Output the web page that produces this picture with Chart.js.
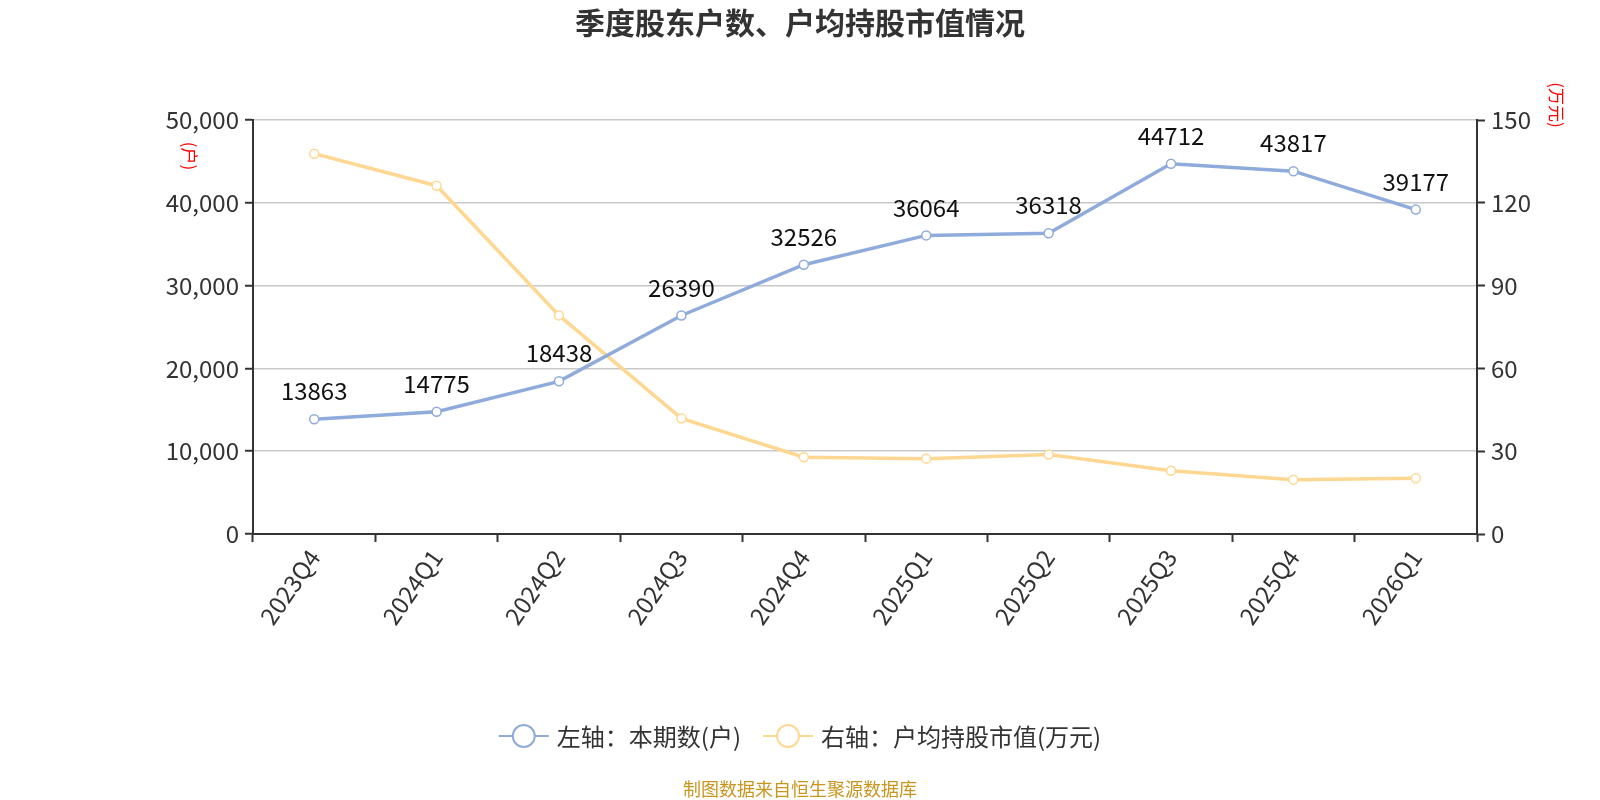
<!DOCTYPE html>
<html>
<head>
<meta charset="utf-8">
<script src="https://cdn.jsdelivr.net/npm/chart.js@4"></script>
<style>
html,body{margin:0;padding:0;background:#fff;}
#wrap{width:1600px;height:800px;position:relative;}
</style>
</head>
<body>
<div id="wrap"><canvas id="c" width="1600" height="800"></canvas></div>
<script>
const categories = ['2023Q4','2024Q1','2024Q2','2024Q3','2024Q4','2025Q1','2025Q2','2025Q3','2025Q4','2026Q1'];
const holders = [13863,14775,18438,26390,32526,36064,36318,44712,43817,39177];
const avgValue = [137.8,126.2,79.2,41.9,27.8,27.3,28.8,22.9,19.7,20.2];
const leftTicks = [0,10000,20000,30000,40000,50000];
const rightTicks = [0,30,60,90,120,150];
const seriesNames = ['左轴：本期数(户)','右轴：户均持股市值(万元)'];
const titleText = '季度股东户数、户均持股市值情况';
const footerText = '制图数据来自恒生聚源数据库';

const FONT = '"Noto Sans CJK SC","Noto Sans",sans-serif';
const BLUE = 'rgb(143,171,219)';
const YELLOW = 'rgb(254,216,146)';
const AX = '#333333';

const extras = {
  id: 'extras',
  afterDatasetsDraw(chart) {
    const ctx = chart.ctx;
    const meta = chart.getDatasetMeta(0);
    ctx.save();
    ctx.font = '24px ' + FONT;
    ctx.fillStyle = '#111';
    ctx.textAlign = 'center';
    ctx.textBaseline = 'middle';
    meta.data.forEach((pt, i) => {
      ctx.fillText(String(holders[i]), pt.x, pt.y - 28);
    });
    ctx.restore();
  },
  afterDraw(chart) {
    const ctx = chart.ctx;
    const W = chart.width;
    ctx.save();
    // title
    ctx.font = 'bold 30px ' + FONT;
    ctx.fillStyle = '#333';
    ctx.textAlign = 'center';
    ctx.textBaseline = 'middle';
    ctx.fillText(titleText, W / 2, 23);
    // axis unit titles
    ctx.font = '17px ' + FONT;
    ctx.fillStyle = '#ff0000';
    ctx.save();
    ctx.translate(189, 156);
    ctx.rotate(Math.PI / 2);
    ctx.fillText('(户)', 0, 0);
    ctx.restore();
    ctx.save();
    ctx.translate(1556, 105);
    ctx.rotate(Math.PI / 2);
    ctx.fillText('(万元)', 0, 0);
    ctx.restore();
    // legend
    const colors = [BLUE, YELLOW];
    ctx.font = '24px ' + FONT;
    const ly = 736;
    const w0 = ctx.measureText(seriesNames[0]).width;
    const w1 = ctx.measureText(seriesNames[1]).width;
    const sym = 50, gap = 8, between = 22;
    const total = sym + gap + w0 + between + sym + gap + w1;
    let x = W / 2 - total / 2;
    [w0, w1].forEach((w, i) => {
      ctx.strokeStyle = colors[i];
      ctx.lineWidth = 2;
      ctx.beginPath();
      ctx.moveTo(x, ly);
      ctx.lineTo(x + sym, ly);
      ctx.stroke();
      ctx.beginPath();
      ctx.arc(x + sym / 2, ly, 11, 0, Math.PI * 2);
      ctx.fillStyle = '#fff';
      ctx.fill();
      ctx.stroke();
      ctx.fillStyle = '#333';
      ctx.textAlign = 'left';
      ctx.fillText(seriesNames[i], x + sym + gap, ly + 1);
      x += sym + gap + w + between;
    });
    // footer
    ctx.font = '18px ' + FONT;
    ctx.fillStyle = '#c8951e';
    ctx.textAlign = 'center';
    ctx.fillText(footerText, W / 2, 789);
    ctx.restore();
  }
};

new Chart(document.getElementById('c'), {
  type: 'line',
  data: {
    labels: categories,
    datasets: [
      {
        label: seriesNames[0],
        data: holders,
        yAxisID: 'y',
        borderColor: BLUE,
        backgroundColor: '#fff',
        borderWidth: 3.5,
        pointRadius: 4.5,
        pointBorderWidth: 1.5,
        pointBackgroundColor: '#fff',
        pointBorderColor: BLUE,
        tension: 0
      },
      {
        label: seriesNames[1],
        data: avgValue,
        yAxisID: 'y1',
        borderColor: YELLOW,
        backgroundColor: '#fff',
        borderWidth: 3.5,
        pointRadius: 4.5,
        pointBorderWidth: 1.5,
        pointBackgroundColor: '#fff',
        pointBorderColor: YELLOW,
        tension: 0
      }
    ]
  },
  options: {
    responsive: false,
    animation: false,
    layout: { padding: { top: 120, left: 0, right: 0, bottom: 0 } },
    plugins: {
      legend: { display: false },
      title: { display: false },
      tooltip: { enabled: false }
    },
    scales: {
      x: {
        offset: true,
        grid: { display: true, drawOnChartArea: false, offset: true, tickLength: 8, tickColor: AX, tickWidth: 2 },
        border: { display: true, color: AX, width: 2 },
        ticks: { color: AX, font: { size: 24, family: FONT }, minRotation: 55, maxRotation: 55, padding: 2 },
        afterFit(s) { s.height = 266; }
      },
      y: {
        position: 'left',
        min: 0, max: 50000,
        afterBuildTicks(s) { s.ticks = leftTicks.map(v => ({ value: v })); },
        grid: { color: '#c8c8c8', lineWidth: 1.5, tickColor: AX, tickLength: 8, tickWidth: 2 },
        border: { display: true, color: AX, width: 2 },
        ticks: { color: AX, font: { size: 24, family: FONT }, padding: 6,
          callback: v => v.toLocaleString('en-US') },
        afterFit(s) { s.width = 253; }
      },
      y1: {
        position: 'right',
        min: 0, max: 150,
        afterBuildTicks(s) { s.ticks = rightTicks.map(v => ({ value: v })); },
        grid: { drawOnChartArea: false, tickColor: AX, tickLength: 8, tickWidth: 2 },
        border: { display: true, color: AX, width: 2 },
        ticks: { color: AX, font: { size: 24, family: FONT }, padding: 6 },
        afterFit(s) { s.width = 123; }
      }
    }
  },
  plugins: [extras]
});
</script>
</body>
</html>
